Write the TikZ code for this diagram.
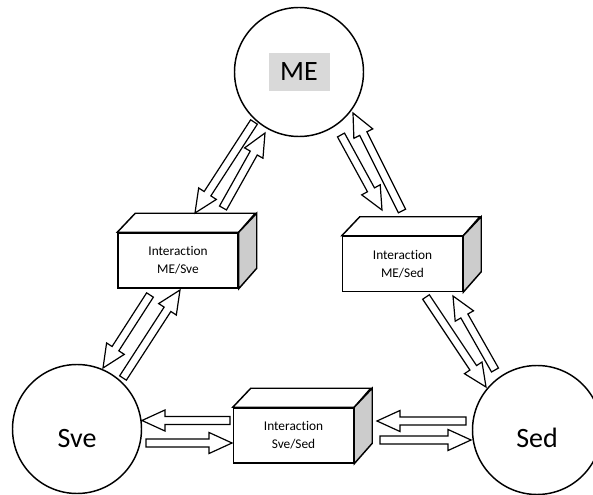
\documentclass[tikz,border=0pt]{standalone}
\usepackage{fontspec}
\setmainfont{Carlito}[Ligatures=NoCommon]
\usetikzlibrary{calc}

\tikzset{
  state/.style={circle, draw, line width=1.1pt, minimum size=96.75pt, inner sep=0pt},
  statetext/.style={inner sep=0pt, font=\fontsize{21}{25}\selectfont},
  melabel/.style={fill=gray!30, minimum width=45.75pt, minimum height=28.5pt, inner sep=0pt, font=\fontsize{21}{25}\selectfont},
  cube/.style={draw, line width=1.1pt, fill=white, minimum width=90pt, minimum height=41.25pt, inner sep=0pt, align=center, font=\fontsize{10}{13.5}\selectfont},
  cubeside/.style={draw, line width=1.1pt, line join=miter},
  blockarr/.style={draw, line width=0.9pt, fill=white, line join=miter},
}

% top and side face of a box node
\newcommand\cubeback[1]{%
  \draw[cubeside, fill=white] (#1.north west) -- ++(13.5pt,14.25pt) -- ++(90pt,0pt) -- (#1.north east) -- cycle;
  \draw[cubeside, fill=gray!40] (#1.north east) -- ++(13.5pt,14.25pt) -- ++(0pt,-41.25pt) -- (#1.south east) -- cycle;
}

% hollow block arrow from #1 to #2
\newcommand\blockarrow[2]{%
  \draw[blockarr] ($(#1)!3pt!90:(#2)$)
    -- ($(#2)!17.25pt!(#1)!3pt!90:(#2)$)
    -- ($(#2)!17.25pt!(#1)!7.9pt!90:(#2)$)
    -- (#2)
    -- ($(#2)!17.25pt!(#1)!7.9pt!-90:(#2)$)
    -- ($(#2)!17.25pt!(#1)!3pt!-90:(#2)$)
    -- ($(#1)!3pt!-90:(#2)$) -- cycle;
}

\begin{document}
\begin{tikzpicture}[x=0.75pt, y=-0.75pt]
  \useasboundingbox (0,0) rectangle (593,495);
  \clip (0,0) rectangle (593,495);

  % states
  \node[state] (me) at (299,72) {};
  \node[melabel] (me-t) at (me) {ME};
  \node[state] (sve) at (77,429) {};
  \node[statetext] (sve-t) at ([yshift=-7pt]sve.center) {Sve};
  \node[state] (sed) at (537,430) {};
  \node[statetext] (sed-t) at ([yshift=-6pt]sed.center) {Sed};

  % interaction boxes
  \node[cube] (mesve) at (178,260.5) {Interaction\\ME/Sve};
  \cubeback{mesve}
  \node[cube] (mesed) at (402.5,264) {Interaction\\ME/Sed};
  \cubeback{mesed}
  \node[cube] (svesed) at (293.5,435.5) {Interaction\\Sve/Sed};
  \cubeback{svesed}

  % arrow ends
  \coordinate (s1) at (254,122);   \coordinate (t1) at (195,213);
  \coordinate (s2) at (223,208);   \coordinate (t2) at (265,133);
  \coordinate (s3) at (341,135);   \coordinate (t3) at (382,210);
  \coordinate (s4) at (402,211);   \coordinate (t4) at (353,113);
  \coordinate (s5) at (150,295);   \coordinate (t5) at (103,368);
  \coordinate (s6) at (123,378);   \coordinate (t6) at (180,290);
  \coordinate (s7) at (426,297);   \coordinate (t7) at (486,387);
  \coordinate (s8) at (495,370);   \coordinate (t8) at (453,296);
  \coordinate (s9) at (230,420.5); \coordinate (t9) at (142,420.5);
  \coordinate (s10) at (146,443);  \coordinate (t10) at (232,443);
  \coordinate (s11) at (466,421);  \coordinate (t11) at (377,421);
  \coordinate (s12) at (380,440);  \coordinate (t12) at (471,440);

  \foreach \i in {1,...,12}
    \blockarrow{s\i}{t\i};
\end{tikzpicture}
\end{document}
